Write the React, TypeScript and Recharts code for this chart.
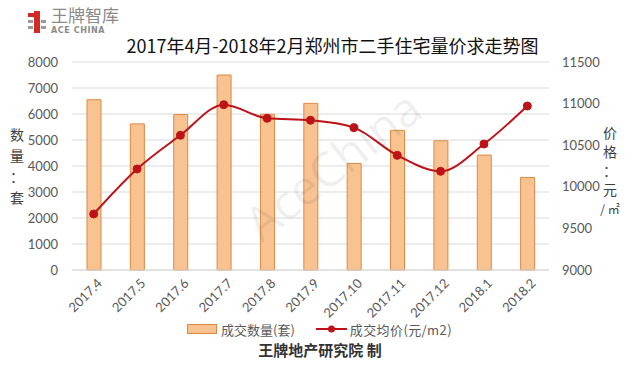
import React from 'react';
import { ComposedChart, Bar, Line, XAxis, YAxis, CartesianGrid } from 'recharts';

const months = ['2017.4', '2017.5', '2017.6', '2017.7', '2017.8', '2017.9', '2017.10', '2017.11', '2017.12', '2018.1', '2018.2'];
const volume = [6550, 5620, 5980, 7500, 5990, 6410, 4100, 5370, 4970, 4420, 3560];
const price = [9673, 10214, 10619, 10987, 10823, 10800, 10711, 10378, 10186, 10514, 10971];
const leftTicks = [0, 1000, 2000, 3000, 4000, 5000, 6000, 7000, 8000];
const rightTicks = [9000, 9500, 10000, 10500, 11000, 11500];

const title = '2017年4月-2018年2月郑州市二手住宅量价求走势图';
const barName = '成交数量(套)';
const lineName = '成交均价(元/m2)';
const footer = '王牌地产研究院 制';
const leftLabel = ['数', '量', '：', '套'];
const rightLabel = ['价', '格', '：', '元', '/ ㎡'];

const data = months.map((m, i) => ({ month: m, volume: volume[i], price: price[i] }));

const FONT = "Lato, 'Noto Sans CJK SC', sans-serif";
const CJK = "'Noto Sans CJK SC', sans-serif";
const BAR_FILL = '#F8C291';
const BAR_STROKE = '#DC8A45';
const LINE = '#BE1219';

const XTick = (props: any) => {
  const { x, y, payload } = props;
  return (
    <g transform={`translate(${x + 6},${y + 3})`}>
      <text textAnchor="end" transform="rotate(-45)" fontSize={13} fill="#595959" fontFamily={FONT} dy="0.35em">
        {payload.value}
      </text>
    </g>
  );
};

export default function App() {
  return (
    <div style={{ position: 'absolute', left: 0, top: 0, width: 640, height: 365, background: '#fff', fontFamily: CJK }}>
      {/* logo */}
      <div style={{ position: 'absolute', left: 28, top: 11, width: 18, height: 22 }}>
        <div style={{ position: 'absolute', left: 6, top: 0, width: 6, height: 22, background: '#D42A26' }} />
        <div style={{ position: 'absolute', left: 0, top: 2, width: 6, height: 4, background: '#D42A26' }} />
        <div style={{ position: 'absolute', left: 0, top: 9, width: 5, height: 3, background: '#9a9a9a' }} />
        <div style={{ position: 'absolute', left: 13, top: 9, width: 5, height: 3, background: '#9a9a9a' }} />
        <div style={{ position: 'absolute', left: 0, top: 15, width: 5, height: 3, background: '#9a9a9a' }} />
        <div style={{ position: 'absolute', left: 13, top: 15, width: 5, height: 3, background: '#9a9a9a' }} />
      </div>
      <div style={{ position: 'absolute', left: 51, top: 5, fontSize: 17, lineHeight: '19px', color: '#8a8a8a', fontFamily: CJK }}>王牌智库</div>
      <div style={{ position: 'absolute', left: 51, top: 26, fontSize: 8, lineHeight: '9px', color: '#8a8a8a', fontWeight: 700, fontFamily: "'DejaVu Sans', sans-serif", letterSpacing: 0.6 }}>ACE CHINA</div>

      {/* title */}
      <div style={{ position: 'absolute', left: 0, width: 665, top: 33, textAlign: 'center', fontSize: 18, lineHeight: '24px', color: '#111', fontFamily: CJK }}>{title}</div>

      <ComposedChart width={640} height={365} data={data} margin={{ top: 62, right: 0, bottom: 50, left: 0 }}>
        <CartesianGrid yAxisId="left" vertical={false} stroke="#D9D9D9" />
        <XAxis dataKey="month" height={45} tick={<XTick />} tickLine={false} axisLine={{ stroke: '#D9D9D9' }} interval={0} />
        <YAxis yAxisId="left" width={72} domain={[0, 8000]} ticks={leftTicks} tickLine={false} axisLine={false} tickMargin={8}
          tick={{ fontSize: 13, fill: '#595959', fontFamily: FONT }} />
        <YAxis yAxisId="right" orientation="right" width={91} domain={[9000, 11500]} ticks={rightTicks} tickLine={false} axisLine={false} tickMargin={7}
          tick={{ fontSize: 13, fill: '#595959', fontFamily: FONT, textAnchor: 'start' }} />
        <Bar yAxisId="left" dataKey="volume" name={barName} barSize={14} fill={BAR_FILL} stroke={BAR_STROKE} strokeWidth={1} isAnimationActive={false} />
        <Line yAxisId="right" dataKey="price" name={lineName} type="monotone" stroke={LINE} strokeWidth={2}
          dot={{ r: 4, fill: LINE, stroke: LINE, strokeWidth: 1 }} activeDot={false} isAnimationActive={false} />
      </ComposedChart>

      {/* watermark */}
      <div style={{ position: 'absolute', left: 228, top: 132, fontSize: 48, color: 'rgba(0,0,0,0.07)', fontFamily: "'Open Sans', sans-serif", transform: 'rotate(-38deg)', transformOrigin: 'center', whiteSpace: 'nowrap', pointerEvents: 'none' }}>AceChina</div>

      {/* axis labels */}
      <div style={{ position: 'absolute', left: 8, top: 124, width: 18, textAlign: 'center', fontSize: 14, lineHeight: '21px', color: '#404040', fontFamily: CJK }}>
        {leftLabel.map((c, i) => <div key={i}>{c}</div>)}
      </div>
      <div style={{ position: 'absolute', left: 598, top: 123, width: 24, textAlign: 'center', fontSize: 14, lineHeight: '19px', color: '#404040', fontFamily: CJK }}>
        {rightLabel.map((c, i) => <div key={i} style={{ whiteSpace: 'nowrap', fontSize: i === 4 ? 12 : 14 }}>{c}</div>)}
      </div>

      {/* legend */}
      <div style={{ position: 'absolute', left: 187, top: 320, height: 18, display: 'flex', alignItems: 'center', fontSize: 13, color: '#595959', fontFamily: CJK }}>
        <div style={{ width: 28, height: 8, background: BAR_FILL, border: `1px solid ${BAR_STROKE}`, marginRight: 4 }} />
        <span style={{ marginRight: 21 }}>{barName}</span>
        <svg width={31} height={10} style={{ marginRight: 3 }}>
          <line x1={0} y1={5} x2={31} y2={5} stroke={LINE} strokeWidth={2} />
          <circle cx={15.5} cy={5} r={3.5} fill={LINE} />
        </svg>
        <span style={{ letterSpacing: 0.4 }}>{lineName}</span>
      </div>

      {/* footer */}
      <div style={{ position: 'absolute', left: 0, width: 640, top: 340, textAlign: 'center', fontSize: 15, lineHeight: '20px', fontWeight: 700, color: '#333', fontFamily: CJK }}>{footer}</div>
    </div>
  );
}
